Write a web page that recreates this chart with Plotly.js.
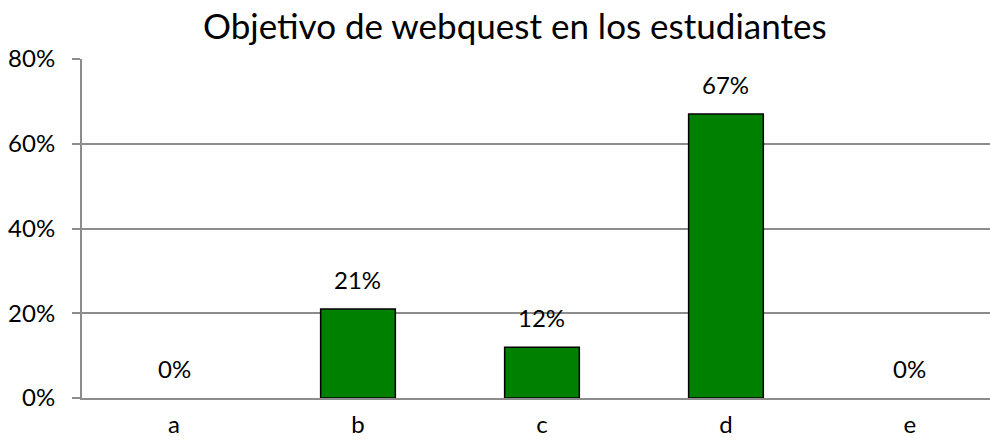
<!DOCTYPE html>
<html>
<head>
<meta charset="utf-8">
<script src="https://cdn.plot.ly/plotly-3.0.1.min.js"></script>
<style>html,body{margin:0;padding:0;background:#fff;}#chart{width:990px;height:442px;}</style>
</head>
<body>
<div id="chart"></div>
<script>
const categories = ['a', 'b', 'c', 'd', 'e'];
const values = [0, 0.21, 0.12, 0.67, 0];
const valueLabels = ['0%', '21%', '12%', '67%', '0%'];
const yTickVals = [0, 0.2, 0.4, 0.6, 0.8];
const yTickText = ['0%', '20%', '40%', '60%', '80%'];
const chartTitle = 'Objetivo de webquest en los estudiantes';

const FONT = 'Lato, "Open Sans", sans-serif';
const gray = '#8c8c8c';

const trace = {
  type: 'bar',
  x: categories,
  y: values,
  width: 0.406,
  marker: {color: '#008000', line: {color: '#000000', width: values.map(v => v > 0 ? 1.5 : 0)}},
  hoverinfo: 'none'
};

const annotations = categories.map((c, i) => ({
  x: c, y: values[i], xref: 'x', yref: 'y',
  text: valueLabels[i], showarrow: false,
  yanchor: 'bottom', yshift: 13,
  font: {family: FONT, size: 24, color: '#000'}
}));

const layout = {
  width: 990, height: 442,
  margin: {l: 82, r: 0, t: 59, b: 44},
  paper_bgcolor: '#fff', plot_bgcolor: '#fff',
  showlegend: false,
  title: {text: chartTitle, x: 0.52, xanchor: 'center', y: 0.94, yanchor: 'middle',
          font: {family: FONT, size: 35, color: '#000'}},
  xaxis: {
    type: 'category', range: [-0.5, 4.435],
    showgrid: false, zeroline: false,
    showline: true, linecolor: gray, linewidth: 2,
    ticks: '', ticklabelstandoff: 4,
    tickfont: {family: FONT, size: 24, color: '#000'},
    fixedrange: true
  },
  yaxis: {
    range: [0, 0.8], tickvals: yTickVals, ticktext: yTickText,
    showgrid: true, gridcolor: gray, gridwidth: 2,
    zeroline: false, showline: true, linecolor: gray, linewidth: 2,
    ticks: 'outside', ticklen: 8, tickcolor: gray, tickwidth: 2,
    ticklabelstandoff: 12,
    tickfont: {family: FONT, size: 24, color: '#000'},
    fixedrange: true
  },
  annotations: annotations
};

Plotly.newPlot('chart', [trace], layout, {displayModeBar: false, staticPlot: true});
</script>
</body>
</html>
